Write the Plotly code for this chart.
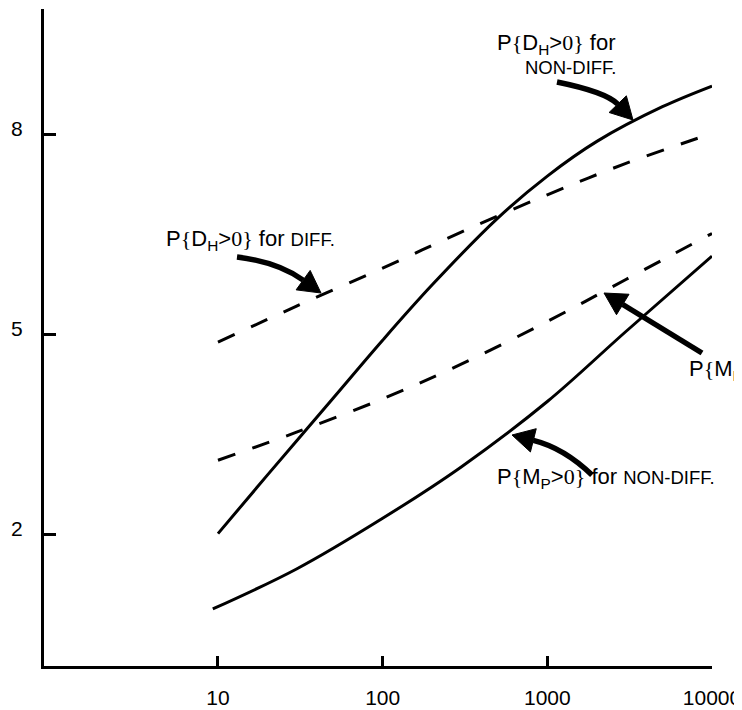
import plotly.graph_objects as go

# ---------------- data ----------------
x_dh_nondiff = [10, 20, 50, 100, 200, 500, 1000, 2000, 5000, 10000]
y_dh_nondiff = [2.02, 2.90, 4.05, 4.92, 5.75, 6.75, 7.38, 7.90, 8.42, 8.73]

x_dh_diff = [10, 30, 100, 300, 1000, 3000, 10000]
y_dh_diff = [4.89, 5.43, 6.00, 6.54, 7.10, 7.57, 8.02]

x_mp_diff = [10, 30, 100, 300, 1000, 3000, 10000]
y_mp_diff = [3.12, 3.54, 4.04, 4.56, 5.20, 5.83, 6.52]

x_mp_nondiff = [9.3, 30, 100, 300, 1000, 3000, 10000]
y_mp_nondiff = [0.89, 1.49, 2.25, 3.02, 4.00, 5.05, 6.18]

x_tick_vals = [10, 100, 1000, 10000]
x_tick_text = ["10", "100", "1000", "10000"]
y_tick_vals = [2, 5, 8]
y_tick_text = ["2", "5", "8"]

# ---------------- layout geometry ----------------
# the page body has an 8px margin, so the figure is shrunk/shifted to fit
OFF = 8
W, H = 742 - OFF, 710 - OFF
ML, MR, MT, MB = 44 - OFF, 30, 9 - OFF, 44
PW, PH = W - ML - MR, H - MT - MB


def pp(px, py):
    """page pixel -> paper coordinates"""
    return (px - OFF - ML) / PW, (H - MB - (py - OFF)) / PH


SANS = "Liberation Sans, Arial, sans-serif"
SERIF = "Liberation Serif"

fig = go.Figure()

solid = dict(color="black", width=3)
dashed = dict(color="black", width=3, dash="18px,18px")

fig.add_trace(go.Scatter(x=x_dh_nondiff, y=y_dh_nondiff, mode="lines",
                         line=dict(**solid, shape="spline", smoothing=1)))
fig.add_trace(go.Scatter(x=x_dh_diff, y=y_dh_diff, mode="lines",
                         line=dict(**dashed, shape="spline", smoothing=1)))
fig.add_trace(go.Scatter(x=x_mp_diff, y=y_mp_diff, mode="lines",
                         line=dict(**dashed, shape="spline", smoothing=1)))
fig.add_trace(go.Scatter(x=x_mp_nondiff, y=y_mp_nondiff, mode="lines",
                         line=dict(**solid, shape="spline", smoothing=1)))

# ---------------- curved arrows (pixel geometry -> paper) ----------------
shapes = []


def arrow(tail, ctrl, tip, head_len=22, head_half=12, width=5.5):
    dx, dy = tip[0] - ctrl[0], tip[1] - ctrl[1]
    n = (dx * dx + dy * dy) ** 0.5
    ux, uy = dx / n, dy / n
    bx, by = tip[0] - head_len * ux, tip[1] - head_len * uy
    nx, ny = -uy, ux
    p0, c, b = pp(*tail), pp(*ctrl), pp(bx, by)
    shapes.append(dict(type="path", xref="paper", yref="paper",
                       path=f"M {p0[0]},{p0[1]} Q {c[0]},{c[1]} {b[0]},{b[1]}",
                       line=dict(color="black", width=width)))
    t = pp(*tip)
    l = pp(bx + head_half * nx, by + head_half * ny)
    r = pp(bx - head_half * nx, by - head_half * ny)
    shapes.append(dict(type="path", xref="paper", yref="paper",
                       path=f"M {t[0]},{t[1]} L {l[0]},{l[1]} L {r[0]},{r[1]} Z",
                       fillcolor="black", line=dict(color="black", width=1)))


arrow((557, 82), (606, 92), (633, 120))      # to P{DH>0} non-diff
arrow((237, 257), (278, 262), (321, 293))    # to P{DH>0} diff
arrow((702, 353), (653, 323), (604, 293))    # to P{MP} diff
arrow((592, 475), (564, 448), (512, 435))    # to P{MP>0} non-diff


def prob(var, sub, rest=True):
    s = f"P<span style='font-family:{SERIF}'>{{</span>{var}<sub>{sub}</sub>"
    if rest:
        s += f"&gt;<span style='font-family:{SERIF}'>0}}</span>"
    return s


def small(t):
    return f"<span style='font-size:18.5px'>{t}</span>"


annots = []


def label(text, px, py, xanchor="left"):
    x, y = pp(px, py)
    annots.append(dict(text=text, x=x, y=y, xref="paper", yref="paper",
                       xanchor=xanchor, yanchor="middle", showarrow=False,
                       font=dict(family=SANS, size=22, color="black")))


label(prob("D", "H") + " for", 617, 44.5, xanchor="right")
label(small("NON-DIFF."), 618, 67.5, xanchor="right")
label(prob("D", "H") + " for " + small("DIFF."), 164, 240)
label(prob("M", "P") + " for " + small("NON-DIFF."), 495, 478)
label(prob("M", "P", rest=False), 687, 370)

axis_common = dict(showline=True, linecolor="black", linewidth=3,
                   showgrid=False, zeroline=False, ticks="inside",
                   tickcolor="black", tickwidth=3, automargin=False,
                   tickfont=dict(family=SANS, size=21, color="black"))

fig.update_layout(
    width=W, height=H,
    margin=dict(l=ML, r=MR, t=MT, b=MB),
    paper_bgcolor="white", plot_bgcolor="white",
    showlegend=False,
    shapes=shapes, annotations=annots,
    xaxis=dict(type="log", range=[-0.0565, 4.0], tickvals=x_tick_vals,
               ticktext=x_tick_text, ticklen=10, ticklabelstandoff=11,
               **axis_common),
    yaxis=dict(range=[0.035, 9.885], tickvals=y_tick_vals,
               ticktext=y_tick_text, ticklen=12, ticklabelstandoff=14,
               ticklabelshift=-6, **axis_common),
)

fig.write_html("out.html")
